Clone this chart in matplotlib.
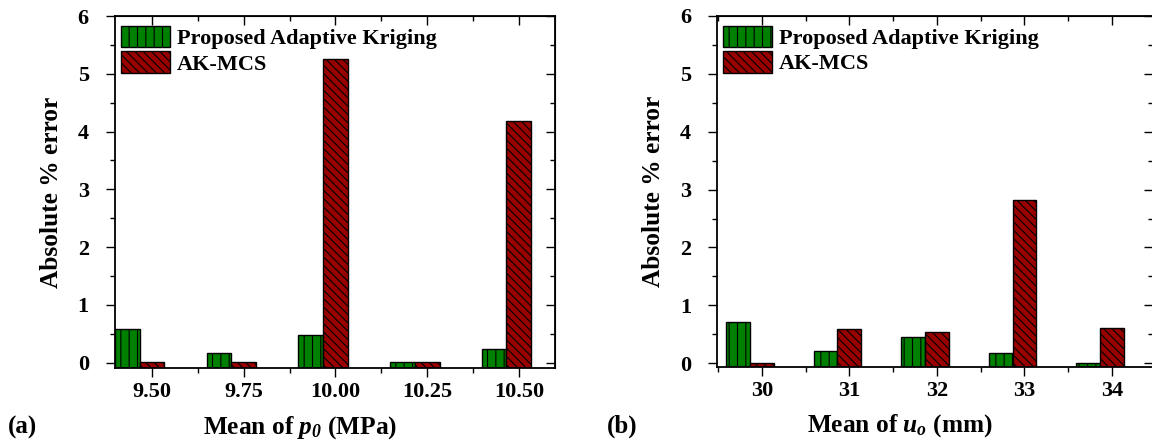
import numpy as np
import matplotlib.pyplot as plt
from matplotlib.ticker import MultipleLocator

plt.rcParams['font.family'] = 'Liberation Serif'
plt.rcParams['font.weight'] = 'bold'
# math text only used for the italic symbols in the x labels
plt.rcParams['mathtext.fontset'] = 'custom'
plt.rcParams['mathtext.it'] = 'Liberation Serif:italic:bold'
plt.rcParams['mathtext.rm'] = 'Liberation Serif:italic:bold'
plt.rcParams['mathtext.default'] = 'it'
plt.rcParams['hatch.linewidth'] = 0.8

# data (absolute % error)
p0_labels = ['9.50', '9.75', '10.00', '10.25', '10.50']
p0_proposed = [0.58, 0.17, 0.48, 0.01, 0.24]
p0_akmcs = [0.01, 0.01, 5.26, 0.01, 4.19]

u0_labels = ['30', '31', '32', '33', '34']
u0_proposed = [0.72, 0.22, 0.455, 0.17, 0.01]
u0_akmcs = [0.01, 0.59, 0.535, 2.82, 0.61]

green = '#008000'
red = '#990000'
width = 0.27


def draw_panel(ax, labels, proposed, akmcs, xlabel, xlim, ymin, xlab_x, tag, tag_x):
    x = np.arange(len(labels))
    # bars start at the bottom of the axis, like in Origin
    ax.bar(x - width, np.array(proposed) - ymin, width, bottom=ymin, color=green,
           edgecolor='black', hatch='||', linewidth=1, label='Proposed Adaptive Kriging')
    ax.bar(x, np.array(akmcs) - ymin, width, bottom=ymin, color=red,
           edgecolor='black', hatch='\\\\\\\\', linewidth=1, label='AK-MCS')

    ax.set_xlim(xlim)
    ax.set_ylim(ymin, 6)
    ax.set_xticks(x)
    ax.set_xticklabels(labels)
    ax.xaxis.set_minor_locator(MultipleLocator(0.5))
    ax.yaxis.set_major_locator(MultipleLocator(1))
    ax.yaxis.set_minor_locator(MultipleLocator(0.5))
    ax.tick_params(which='major', length=6.5, width=1, labelsize=16)
    ax.tick_params(which='minor', length=3.5, width=1)
    ax.tick_params(axis='x', which='major', pad=3.5)
    ax.tick_params(axis='y', which='major', pad=12)
    for s in ax.spines.values():
        s.set_linewidth(1.3)

    # inward ticks on top and right
    top = ax.secondary_xaxis('top')
    top.set_xticks(x)
    top.xaxis.set_minor_locator(MultipleLocator(0.5))
    top.tick_params(which='major', direction='in', length=6.5, width=1, labeltop=False)
    top.tick_params(which='minor', direction='in', length=3.5, width=1)
    right = ax.secondary_yaxis('right')
    right.yaxis.set_major_locator(MultipleLocator(1))
    right.yaxis.set_minor_locator(MultipleLocator(0.5))
    right.tick_params(which='major', direction='in', length=6.5, width=1, labelright=False)
    right.tick_params(which='minor', direction='in', length=3.5, width=1)

    ax.set_ylabel('Absolute % error', fontsize=18.3, fontweight='bold')
    ax.yaxis.set_label_coords(-0.118, 0.5)
    ax.set_xlabel(xlabel, fontsize=18.3, fontweight='bold', va='center')
    ax.xaxis.set_label_coords(xlab_x, -0.167)

    ax.legend(loc='upper left', bbox_to_anchor=(0.015, 0.972), frameon=False,
              fontsize=16, handlelength=2.2, handleheight=1.1,
              handletextpad=0.3, labelspacing=0.1, borderpad=0, borderaxespad=0)

    ax.text(tag_x, -0.167, tag, transform=ax.transAxes, fontsize=18,
            fontweight='bold', va='center', ha='center')


fig = plt.figure(figsize=(11.52, 4.43), dpi=100)
ax1 = fig.add_axes([0.0994, 0.1686, 0.382, 0.795])
ax2 = fig.add_axes([0.6222, 0.1709, 0.3787, 0.793])

draw_panel(ax1, p0_labels, p0_proposed, p0_akmcs, r'Mean of $p_0$ (MPa)',
           (-0.41, 4.39), -0.1, 0.422, '(a)', -0.208)
draw_panel(ax2, u0_labels, u0_proposed, u0_akmcs, r'Mean of $u_o$ (mm)',
           (-0.514, 4.47), -0.07, 0.42, '(b)', -0.217)

fig.savefig('out.png', dpi=100)
